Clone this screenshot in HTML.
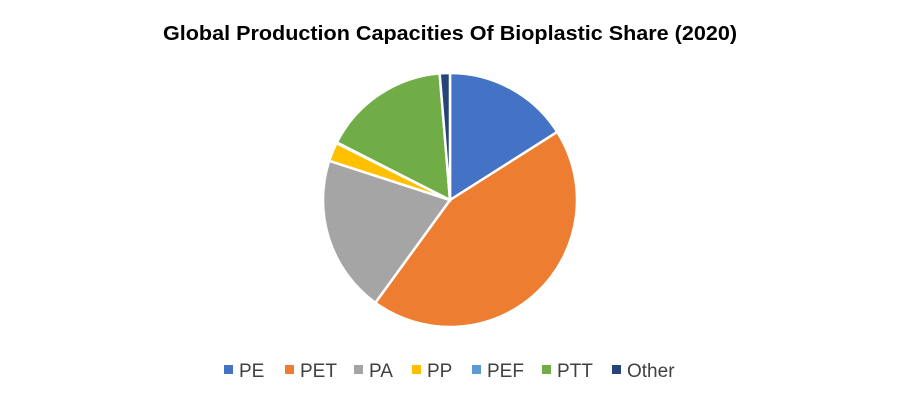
<!DOCTYPE html>
<html><head><meta charset="utf-8"><style>
body{margin:0;background:#fff;font-family:"Liberation Sans",sans-serif;}
#wrap{position:relative;width:900px;height:403px;overflow:hidden;}
</style></head><body>
<div id="wrap">
<svg id="chart" width="900" height="403">
<text x="450" y="40" text-anchor="middle" font-size="20" font-weight="bold" fill="#000" textLength="574" lengthAdjust="spacingAndGlyphs">Global Production Capacities Of Bioplastic Share (2020)</text>
</svg>
</div>
<script>
const categories = ["PE","PET","PA","PP","PEF","PTT","Other"];
const values = [16, 44, 20, 2.4, 0.1, 16.2, 1.3];
const colors = ["#4472C4","#ED7D31","#A5A5A5","#FFC000","#5B9BD5","#70AD47","#264478"];
const svg = document.getElementById('chart');
const NS = "http://www.w3.org/2000/svg";
const cx = 450, cy = 200, r = 127;
const total = values.reduce((a,b)=>a+b,0);
function pt(a){return [cx + r*Math.sin(a), cy - r*Math.cos(a)];}
let acc = 0;
values.forEach((v,i)=>{
  const a0 = acc/total*2*Math.PI; acc += v;
  const a1 = acc/total*2*Math.PI;
  const p0 = pt(a0), p1 = pt(a1);
  const large = (a1-a0) > Math.PI ? 1 : 0;
  const path = document.createElementNS(NS,'path');
  path.setAttribute('d',`M${cx},${cy} L${p0[0]},${p0[1]} A${r},${r} 0 ${large} 1 ${p1[0]},${p1[1]} Z`);
  path.setAttribute('fill',colors[i]);
  path.setAttribute('stroke','#fff');
  path.setAttribute('stroke-width','2.5');
  
  
  svg.appendChild(path);
});
// legend
const legX = [224, 285, 354, 412, 472, 542, 612];
categories.forEach((c,i)=>{
  const g = document.createElementNS(NS,'g');
  
  
  const rc = document.createElementNS(NS,'rect');
  rc.setAttribute('x', legX[i]); rc.setAttribute('y', 365);
  rc.setAttribute('width', 9); rc.setAttribute('height', 9);
  rc.setAttribute('fill', colors[i]);
  const t = document.createElementNS(NS,'text');
  t.setAttribute('x', legX[i]+15); t.setAttribute('y', 377);
  t.setAttribute('font-size', 19); t.setAttribute('fill', '#404040');
  t.textContent = c;
  g.appendChild(rc); g.appendChild(t);
  svg.appendChild(g);
});
</script>
</body></html>
